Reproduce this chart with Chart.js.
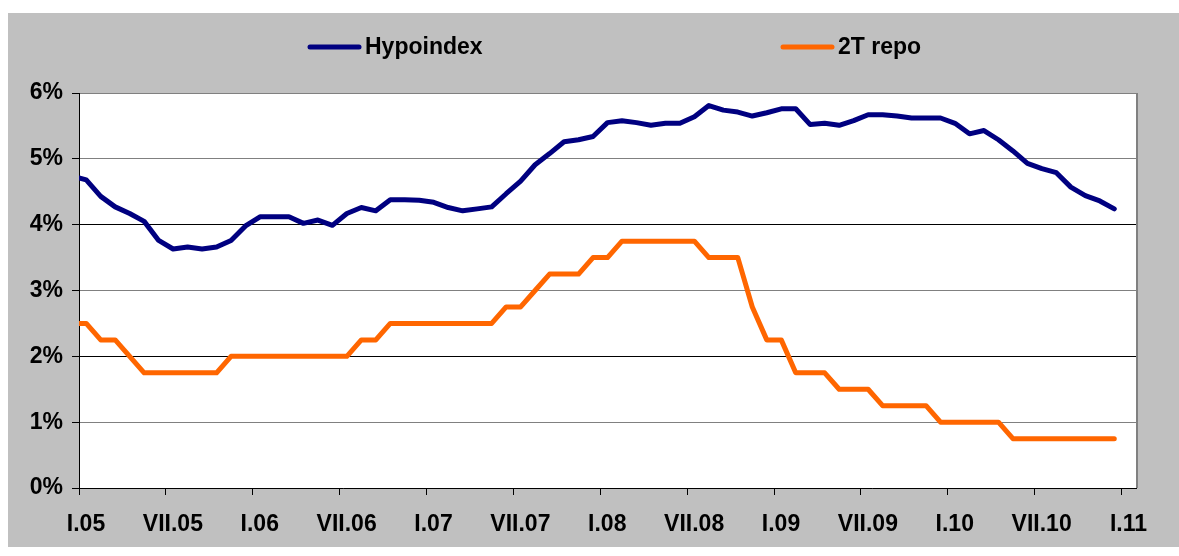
<!DOCTYPE html>
<html>
<head>
<meta charset="utf-8">
<script src="https://cdn.jsdelivr.net/npm/chart.js@4"></script>
<style>
html, body { margin: 0; background: #fff; }
#box { position: absolute; left: 8px; top: 13px; width: 1171px; height: 534px; background: #c0c0c0; }
</style>
</head>
<body>
<div id="box"><canvas id="grafica"></canvas></div>
<script>
// observation dates: start of I.05, then monthly values plotted mid-month
const periods = ['2005-01-01'];
for (let y = 2005; y <= 2010; y++) {
	for (let m = 1; m <= 12; m++) periods.push(y + '-' + String(m).padStart(2, '0') + '-15');
}

const hypoindex = [4.71, 4.68, 4.43, 4.27, 4.17, 4.05, 3.76, 3.63, 3.66, 3.63, 3.66, 3.76, 3.98,
	4.12, 4.12, 4.12, 4.02, 4.07, 3.99, 4.17, 4.26, 4.21, 4.38, 4.38, 4.37,
	4.34, 4.26, 4.21, 4.24, 4.27, 4.47, 4.66, 4.91, 5.08, 5.26, 5.29, 5.34,
	5.55, 5.58, 5.55, 5.51, 5.54, 5.54, 5.64, 5.81, 5.74, 5.71, 5.65, 5.70,
	5.76, 5.76, 5.52, 5.54, 5.51, 5.58, 5.67, 5.67, 5.65, 5.62, 5.62, 5.62,
	5.54, 5.38, 5.43, 5.29, 5.12, 4.93, 4.85, 4.79, 4.57, 4.44, 4.36, 4.24];

const repo = [2.5, 2.5, 2.25, 2.25, 2.0, 1.75, 1.75, 1.75, 1.75, 1.75, 1.75, 2.0, 2.0,
	2.0, 2.0, 2.0, 2.0, 2.0, 2.0, 2.0, 2.25, 2.25, 2.5, 2.5, 2.5,
	2.5, 2.5, 2.5, 2.5, 2.5, 2.75, 2.75, 3.0, 3.25, 3.25, 3.25, 3.5,
	3.5, 3.75, 3.75, 3.75, 3.75, 3.75, 3.75, 3.5, 3.5, 3.5, 2.75, 2.25,
	2.25, 1.75, 1.75, 1.75, 1.5, 1.5, 1.5, 1.25, 1.25, 1.25, 1.25, 1.0,
	1.0, 1.0, 1.0, 1.0, 0.75, 0.75, 0.75, 0.75, 0.75, 0.75, 0.75, 0.75];

const tickLabels = ['I.05', 'VII.05', 'I.06', 'VII.06', 'I.07', 'VII.07', 'I.08',
	'VII.08', 'I.09', 'VII.09', 'I.10', 'VII.10', 'I.11'];

const seriesNames = ['Hypoindex', '2T repo'];

// months since 1.1.2005
function toMonths(d) {
	const p = d.split('-').map(Number);
	return (p[0] - 2005) * 12 + (p[1] - 1) + (p[2] === 1 ? 0 : 0.5);
}

const xs = periods.map(toMonths);

Chart.defaults.font.family = '"Liberation Sans", Arial, sans-serif';
Chart.defaults.font.size = 23;
Chart.defaults.font.weight = 'bold';
Chart.defaults.color = '#000';

const plotFrame = {
	id: 'plotFrame',
	beforeDraw(chart) {
		const {ctx, chartArea: a} = chart;
		ctx.save();
		ctx.fillStyle = '#fff';
		ctx.fillRect(a.left, a.top, a.right - a.left, a.bottom - a.top);
		ctx.restore();
	},
	afterDraw(chart) {
		const {ctx, chartArea: a} = chart;
		ctx.save();
		ctx.strokeStyle = '#808080';
		ctx.lineWidth = 2;
		ctx.beginPath();
		ctx.moveTo(a.right + 1, a.top);
		ctx.lineTo(a.right + 1, a.bottom);
		ctx.stroke();
		ctx.restore();
	}
};

const legendLine = {
	id: 'legendLine',
	afterDraw(chart, args, opts) {
		const ctx = chart.ctx;
		chart.data.datasets.forEach((ds, i) => {
			const x = opts.x[i], y = opts.y;
			ctx.save();
			ctx.strokeStyle = ds.borderColor;
			ctx.lineWidth = ds.borderWidth;
			ctx.lineCap = 'round';
			ctx.beginPath();
			ctx.moveTo(x, y);
			ctx.lineTo(x + opts.len, y);
			ctx.stroke();
			ctx.fillStyle = '#000';
			ctx.font = 'bold 23px "Liberation Sans", Arial, sans-serif';
			ctx.textBaseline = 'middle';
			ctx.fillText(ds.label, x + opts.len + 6, y + 1);
			ctx.restore();
		});
	}
};

const graph = document.querySelector('#grafica');

const data = {
	datasets: [{
		label: seriesNames[0],
		data: xs.map((x, i) => ({x: x, y: hypoindex[i]})),
		borderColor: '#000080',
		borderWidth: 5,
		pointRadius: 0,
		borderJoinStyle: 'round',
		borderCapStyle: 'round',
		tension: 0
	}, {
		label: seriesNames[1],
		data: xs.map((x, i) => ({x: x, y: repo[i]})),
		borderColor: '#ff6600',
		borderWidth: 5,
		pointRadius: 0,
		borderJoinStyle: 'round',
		borderCapStyle: 'round',
		tension: 0
	}]
};

const config = {
	type: 'line',
	data: data,
	plugins: [plotFrame, legendLine],
	options: {
		responsive: true,
		maintainAspectRatio: false,
		animation: false,
		layout: { padding: { top: 80, right: 43, left: 0, bottom: 0 } },
		plugins: {
			legend: { display: false },
			tooltip: { enabled: false },
			legendLine: { x: [302, 775], y: 34, len: 49 }
		},
		scales: {
			x: {
				type: 'linear',
				min: 0,
				max: 73,
				afterFit: s => { s.height = 59; },
				afterBuildTicks: s => { s.ticks = tickLabels.map((t, i) => ({value: i * 6})); },
				ticks: {
					callback: (v, i) => tickLabels[i],
					labelOffset: 7,
					padding: 16,
					maxRotation: 0,
					autoSkip: false
				},
				grid: { drawOnChartArea: false, tickColor: '#000', tickLength: 7 },
				border: { color: '#000', width: 1 }
			},
			y: {
				min: 0,
				max: 6,
				afterFit: s => { s.width = 71; },
				ticks: { stepSize: 1, padding: 9, callback: v => v + '%' },
				grid: {
					color: c => (c.tick && (c.tick.value === 2 || c.tick.value === 4)) ? '#000' : '#808080',
					tickColor: '#000',
					tickLength: 7
				},
				border: { color: '#000', width: 1 }
			}
		}
	}
};

new Chart(graph, config);
</script>
</body>
</html>
